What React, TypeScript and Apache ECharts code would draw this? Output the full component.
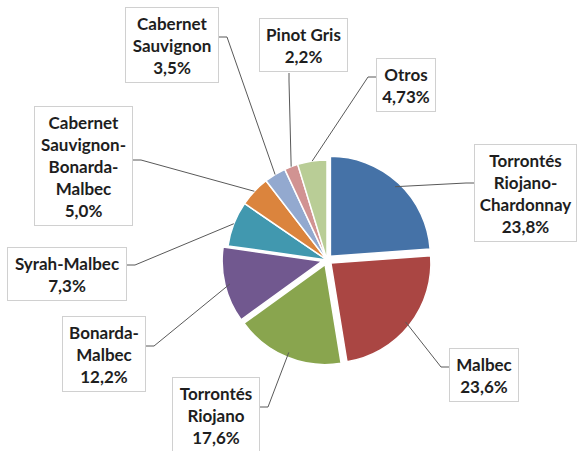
import React, { useEffect, useRef } from "react";
import * as echarts from "echarts";

const categories = [
  "Torrontés\nRiojano-\nChardonnay",
  "Malbec",
  "Torrontés\nRiojano",
  "Bonarda-\nMalbec",
  "Syrah-Malbec",
  "Cabernet\nSauvignon-\nBonarda-\nMalbec",
  "Cabernet\nSauvignon",
  "Pinot Gris",
  "Otros",
];
const values = [23.8, 23.6, 17.6, 12.2, 7.3, 5.0, 3.5, 2.2, 4.73];
const colors = [
  "#4572A7",
  "#AA4643",
  "#89A54E",
  "#71588F",
  "#4198AF",
  "#DB843D",
  "#93A9CF",
  "#D19392",
  "#B9CD96",
];
const exploded = [true, true, true, true, false, false, false, false, false];

// label box layout: top-left, width, and where the leader line attaches
const labelBoxes = [
  { x: 474, y: 145, w: 103, side: "left", a: 38 },
  { x: 449, y: 349, w: 70, side: "left", a: 18 },
  { x: 172, y: 378, w: 88, side: "right", a: 29 },
  { x: 62, y: 317, w: 84, side: "right", a: 29 },
  { x: 7, y: 248, w: 120, side: "right", a: 17 },
  { x: 34, y: 107, w: 99, side: "right", a: 53 },
  { x: 125, y: 8, w: 94, side: "right", a: 29 },
  { x: 259, y: 19, w: 89, side: "bottom", a: 30 },
  { x: 376, y: 59, w: 60, side: "left", a: 18 },
];

const LINE_H = 22;
const PAD_V = 4;
const PAD_H = 4;
const CENTER: [number, number] = [327, 260];
const RADIUS = 100;

function fmt(v: number): string {
  const oneDec = Math.abs(v * 10 - Math.round(v * 10)) < 1e-9;
  return v.toFixed(oneDec ? 1 : 2).replace(".", ",") + "%";
}

export default function App() {
  const ref = useRef<HTMLDivElement>(null);
  useEffect(() => {
    if (!ref.current) return;
    const chart = echarts.init(ref.current, undefined, { renderer: "svg" });
    const total = values.reduce((a, b) => a + b, 0);
    const midAngles: number[] = [];
    let acc = 0;
    values.forEach((v) => {
      midAngles.push(((acc + v / 2) / total) * Math.PI * 2);
      acc += v;
    });

    const sectorData = values.map((v, i) => ({
      name: categories[i],
      value: v,
      selected: exploded[i],
      itemStyle: { color: colors[i] },
    }));
    const labelData = values.map((v, i) => ({
      name: categories[i],
      value: v,
      label: { width: labelBoxes[i].w - PAD_H * 2 - 2 },
    }));

    chart.setOption({
      animation: false,
      series: [
        {
          type: "pie",
          center: CENTER,
          radius: RADIUS,
          startAngle: 90,
          clockwise: true,
          selectedMode: "multiple",
          selectedOffset: 5,
          silent: true,
          emphasis: { disabled: true },
          itemStyle: { borderColor: "#ffffff", borderWidth: 1.5 },
          label: { show: false },
          labelLine: { show: false },
          data: sectorData,
        },
        {
          type: "pie",
          center: CENTER,
          radius: RADIUS,
          startAngle: 90,
          clockwise: true,
          silent: true,
          z: 3,
          avoidLabelOverlap: false,
          emphasis: { disabled: true },
          itemStyle: { color: "rgba(0,0,0,0)", borderWidth: 0 },
          label: {
            show: true,
            position: "outside",
            formatter: (p: any) => p.name + "\n" + fmt(p.value),
            fontFamily: "Lato",
            fontWeight: "bold",
            fontSize: 17,
            lineHeight: LINE_H,
            color: "#1e1e1e",
            align: "center",
            backgroundColor: "#ffffff",
            borderColor: "#d0d0d0",
            borderWidth: 1,
            padding: [PAD_V, PAD_H],
          },
          labelLine: {
            show: true,
            length: 10,
            length2: 10,
            lineStyle: { color: "#595959", width: 1 },
          },
          labelLayout: (params: any) => {
            const i = params.dataIndex;
            const b = labelBoxes[i];
            const lines = categories[i].split("\n").length + 1;
            const h = lines * LINE_H + PAD_V * 2 + 2;
            const ang = midAngles[i];
            const p0 = [
              CENTER[0] + RADIUS * Math.sin(ang),
              CENTER[1] - RADIUS * Math.cos(ang),
            ];
            let p1: number[];
            let p2: number[];
            if (b.side === "left") {
              p2 = [b.x, b.y + b.a];
              p1 = [b.x - 8, b.y + b.a];
            } else if (b.side === "right") {
              p2 = [b.x + b.w, b.y + b.a];
              p1 = [b.x + b.w + 8, b.y + b.a];
            } else {
              p2 = [b.x + b.a, b.y + h];
              p1 = [b.x + b.a, b.y + h + 8];
            }
            return {
              x: b.x + b.w / 2,
              y: b.y,
              align: "center",
              verticalAlign: "top",
              labelLinePoints: [p0, p1, p2],
            };
          },
          data: labelData,
        },
      ],
    });
    return () => chart.dispose();
  }, []);
  return (
    <div
      ref={ref}
      style={{ position: "fixed", left: 0, top: 0, width: 577, height: 451, background: "#fff" }}
    />
  );
}
